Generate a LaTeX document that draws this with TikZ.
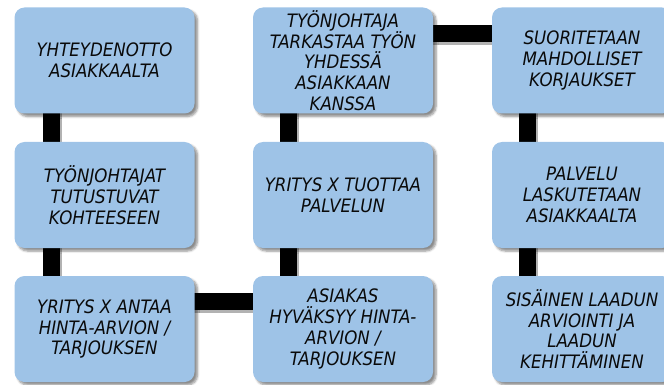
\documentclass[tikz,border=0pt]{standalone}
\usepackage{fontspec}
\setmainfont{DejaVu Sans Condensed}
\usetikzlibrary{shadows.blur,backgrounds}
\definecolor{boxblue}{RGB}{158,195,231}
\definecolor{boxtext}{RGB}{10,10,10}
\begin{document}
\begin{tikzpicture}[x=1pt,y=-1pt,line join=round,
	box/.style={fill=boxblue,rounded corners=10pt,minimum width=180pt,minimum height=106pt,inner sep=2pt,align=center,text=boxtext,
		font=\fontsize{18.5}{20.8}\selectfont\itshape,blur shadow={shadow xshift=3pt,shadow yshift=-3pt,shadow blur steps=6,shadow opacity=45}},
	link/.style={line width=17pt,preaction={draw=black!30,line width=17pt,transform canvas={shift={(2pt,-3pt)}}}}]
	\useasboundingbox (0,0) rectangle (664,385);
	\node[box] (yhteys) at (104.5,60.5) {YHTEYDENOTTO\\ASIAKKAALTA};
	\node[box] (tutustu) at (104.5,195) {TYÖNJOHTAJAT\\TUTUSTUVAT\\KOHTEESEEN};
	\node[box] (arvio) at (104.5,329) {YRITYS X ANTAA\\HINTA-ARVION /\\TARJOUKSEN};
	\node[box] (hyvaksy) at (343,329) {ASIAKAS\\HYVÄKSYY HINTA-\\ARVION /\\TARJOUKSEN};
	\node[box] (tuottaa) at (343,195) {YRITYS X TUOTTAA\\PALVELUN};
	\node[box] (tarkastus) at (343,60.5) {TYÖNJOHTAJA\\TARKASTAA TYÖN\\YHDESSÄ\\ASIAKKAAN\\KANSSA};
	\node[box] (korjaus) at (582,60.5) {SUORITETAAN\\MAHDOLLISET\\KORJAUKSET};
	\node[box] (lasku) at (582,195) {PALVELU\\LASKUTETAAN\\ASIAKKAALTA};
	\node[box] (laatu) at (582,329) {SISÄINEN LAADUN\\ARVIOINTI JA\\LAADUN\\KEHITTÄMINEN};
	\begin{scope}[on background layer]
		\draw[link] ([xshift=37pt]yhteys.west) -- ([xshift=37pt]tutustu.west);
		\draw[link] ([xshift=37pt]tutustu.west) -- ([xshift=37pt]arvio.west);
		\draw[link] ([yshift=-26pt]arvio.north) -- ([yshift=-26pt]hyvaksy.north);
		\draw[link] ([xshift=36pt]hyvaksy.west) -- ([xshift=36pt]tuottaa.west);
		\draw[link] ([xshift=36pt]tuottaa.west) -- ([xshift=36pt]tarkastus.west);
		\draw[link] ([yshift=-26pt]tarkastus.north) -- ([yshift=-26pt]korjaus.north);
		\draw[link] ([xshift=36pt]korjaus.west) -- ([xshift=36pt]lasku.west);
		\draw[link] ([xshift=36pt]lasku.west) -- ([xshift=36pt]laatu.west);
	\end{scope}
\end{tikzpicture}
\end{document}
